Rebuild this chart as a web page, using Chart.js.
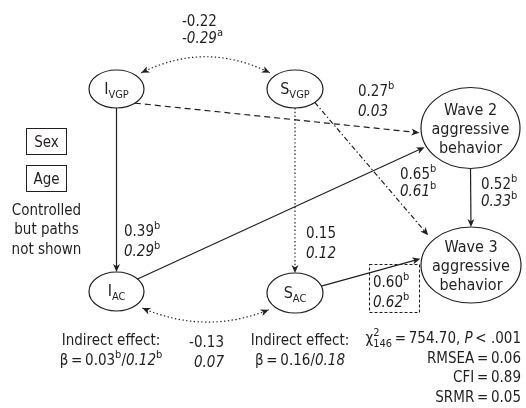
<!DOCTYPE html>
<html>
<head>
<meta charset="utf-8">
<script src="https://cdn.jsdelivr.net/npm/chart.js@4.4.0/dist/chart.umd.min.js"></script>
<style>
  html, body { margin: 0; padding: 0; background: #fff; }
</style>
</head>
<body>
<canvas id="diagram" width="526" height="408"></canvas>
<script>
// path coefficients: upper = first model, lower (italic) = second model
const pathNames = ['IVGP-SVGP', 'IVGP>IAC', 'IVGP>W2', 'SVGP>SAC', 'IAC>W2', 'SAC>W3', 'W2>W3', 'IAC-SAC'];
const coefUpper = ['-0.22', '0.39', '0.27', '0.15', '0.65', '0.60', '0.52', '-0.13'];
const supUpper = ['', 'b', 'b', '', 'b', 'b', 'b', ''];
const coefLower = ['-0.29', '0.29', '0.03', '0.12', '0.61', '0.62', '0.33', '0.07'];
const supLower = ['a', 'b', '', '', 'b', 'b', 'b', ''];

// indirect effects (left: intercept, right: slope)
const indirectUpper = ['0.03', '0.16'];
const indirectSupUpper = ['b', ''];
const indirectLower = ['0.12', '0.18'];
const indirectSupLower = ['b', ''];

// model fit
const chiDf = '146';
const chiValue = '754.70';
const pValue = '< .001';
const fitNames = ['RMSEA', 'CFI', 'SRMR'];
const fitValues = ['0.06', '0.89', '0.05'];

const covariates = ['Sex', 'Age'];
const covariateNote = ['Controlled', 'but paths', 'not shown'];

// ---- layout (diagram units = pixels) ----
const nodes = [
    { id: 'IVGP', label: ['I', 'VGP'], x: 116.5, y: 89, rx: 27.5, ry: 19 },
    { id: 'SVGP', label: ['S', 'VGP'], x: 295, y: 89, rx: 28, ry: 19 },
    { id: 'W2', lines: ['Wave 2', 'aggressive', 'behavior'], x: 470.5, y: 128, rx: 49.5, ry: 40.5 },
    { id: 'IAC', label: ['I', 'AC'], x: 116.5, y: 291.5, rx: 27.5, ry: 19.5 },
    { id: 'SAC', label: ['S', 'AC'], x: 295, y: 293, rx: 28, ry: 20 },
    { id: 'W3', lines: ['Wave 3', 'aggressive', 'behavior'], x: 471, y: 265, rx: 50, ry: 38 }
];

// from, to, angle on source, angle on target, gap at tip, style, bend, double headed
const edges = [
    { from: 'IVGP', to: 'SVGP', a1: -45, a2: -135, gap: 6, style: 'dotted', bend: -35, both: true },
    { from: 'IVGP', to: 'IAC', a1: 90, a2: -90, gap: 0, style: 'solid' },
    { from: 'IVGP', to: 'W2', a1: 48, a2: 173, gap: 2, style: 'dashed' },
    { from: 'SVGP', to: 'SAC', a1: 90, a2: -90, gap: 0, style: 'dotted' },
    { from: 'SVGP', to: 'W3', a1: 45, a2: -140, gap: 7, style: 'dashdot' },
    { from: 'IAC', to: 'W2', a1: -40, a2: 153, gap: 2, style: 'solid' },
    { from: 'SAC', to: 'W3', a1: -20, a2: -170, gap: 1.5, style: 'solid' },
    { from: 'W2', to: 'W3', a1: 90, a2: -90, gap: 0, style: 'solid' },
    { from: 'IAC', to: 'SAC', a1: 45, a2: 135, gap: 7, style: 'dotted', bend: 29, both: true }
];

const labelPos = [
    { x: 182, y1: 20, y2: 37, align: 'left' },
    { x: 124, y1: 230, y2: 250, align: 'left' },
    { x: 358, y1: 90, y2: 110, align: 'left' },
    { x: 306, y1: 232, y2: 252, align: 'left' },
    { x: 400, y1: 173, y2: 190, align: 'left' },
    { x: 373, y1: 281, y2: 301, align: 'left' },
    { x: 481, y1: 183, y2: 200, align: 'left' },
    { x: 224, y1: 341, y2: 361, align: 'right' }
];

const INK = '#231f20';
const BASE = 15;
const SMALL = 11;
const FAMILY = '"DejaVu Sans Condensed", "DejaVu Sans", sans-serif';

function font(size, it) {
    return (it ? 'italic ' : '') + size + 'px ' + FAMILY;
}

function runWidth(ctx, r) {
    if (r.s === 'stack') {
        ctx.font = font(SMALL);
        return Math.max(ctx.measureText(r.t).width, ctx.measureText(r.t2).width);
    }
    ctx.font = font(r.s ? SMALL : (r.size || BASE), r.it);
    return ctx.measureText(r.t).width;
}

// draws a list of text runs, y is the visual middle of the main text
function drawRuns(ctx, runs, x, y, align) {
    let total = 0;
    runs.forEach(r => total += runWidth(ctx, r));
    let cx = align === 'left' ? x : align === 'right' ? x - total : x - total / 2;
    const base = y + 5.5;
    ctx.textAlign = 'left';
    ctx.textBaseline = 'alphabetic';
    ctx.fillStyle = INK;
    runs.forEach(r => {
        const w = runWidth(ctx, r);
        if (r.s === 'stack') {
            ctx.font = font(SMALL);
            ctx.fillText(r.t, cx, base - 7);
            ctx.fillText(r.t2, cx, base + 4);
        } else {
            ctx.font = font(r.s ? SMALL : (r.size || BASE), r.it);
            const dy = r.s === 'sup' ? -6.5 : r.s === 'sub' ? 4 : 0;
            ctx.fillText(r.t, cx, base + dy);
        }
        cx += w;
    });
}

function valueRuns(txt, sup, it) {
    const runs = [{ t: txt, it: it }];
    if (sup) runs.push({ t: sup, s: 'sup' });
    return runs;
}

function arrowHead(ctx, tip, dx, dy) {
    const len = Math.hypot(dx, dy);
    const ux = dx / len, uy = dy / len;
    const nx = -uy, ny = ux;
    const L = 8, W = 3.5, N = 2.2;
    ctx.setLineDash([]);
    ctx.beginPath();
    ctx.moveTo(tip.x, tip.y);
    ctx.lineTo(tip.x - ux * L + nx * W, tip.y - uy * L + ny * W);
    ctx.lineTo(tip.x - ux * (L - N), tip.y - uy * (L - N));
    ctx.lineTo(tip.x - ux * L - nx * W, tip.y - uy * L - ny * W);
    ctx.closePath();
    ctx.fill();
}

const dashes = {
    solid: [],
    dashed: [6, 4],
    dotted: [1.4, 2.4],
    dashdot: [5, 2.5, 1.4, 2.5]
};

const diagramPlugin = {
    id: 'pathDiagram',
    afterDatasetsDraw(chart) {
        const ctx = chart.ctx;
        const sx = chart.scales.x, sy = chart.scales.y;
        const pts = chart.data.datasets[0].data;
        const pos = {};
        nodes.forEach((n, i) => {
            const px = sx.getPixelForValue(pts[i].x);
            const py = sy.getPixelForValue(pts[i].y);
            const rx = Math.abs(sx.getPixelForValue(pts[i].x + n.rx) - px);
            const ry = Math.abs(sy.getPixelForValue(pts[i].y + n.ry) - py);
            pos[n.id] = { x: px, y: py, rx: rx, ry: ry, n: n };
        });
        const onEllipse = (p, deg) => {
            const a = deg * Math.PI / 180;
            return { x: p.x + p.rx * Math.cos(a), y: p.y + p.ry * Math.sin(a) };
        };

        ctx.save();
        ctx.strokeStyle = INK;
        ctx.fillStyle = INK;
        ctx.lineWidth = 1.2;

        // ellipses
        Object.values(pos).forEach(p => {
            ctx.setLineDash([]);
            ctx.beginPath();
            ctx.ellipse(p.x, p.y, p.rx, p.ry, 0, 0, Math.PI * 2);
            ctx.stroke();
        });

        // paths
        edges.forEach(e => {
            let a = onEllipse(pos[e.from], e.a1);
            let b = onEllipse(pos[e.to], e.a2);
            ctx.setLineDash(dashes[e.style]);
            ctx.lineCap = 'butt';
            if (e.bend) {
                const mx = (a.x + b.x) / 2, my = (a.y + b.y) / 2;
                const c = { x: mx, y: my + e.bend };
                const trim = (p) => {
                    const dx = c.x - p.x, dy = c.y - p.y, l = Math.hypot(dx, dy);
                    return { x: p.x + dx / l * e.gap, y: p.y + dy / l * e.gap };
                };
                b = trim(b);
                if (e.both) a = trim(a);
                ctx.beginPath();
                ctx.moveTo(a.x, a.y);
                ctx.quadraticCurveTo(c.x, c.y, b.x, b.y);
                ctx.stroke();
                arrowHead(ctx, b, b.x - c.x, b.y - c.y);
                if (e.both) arrowHead(ctx, a, a.x - c.x, a.y - c.y);
            } else {
                const dx = b.x - a.x, dy = b.y - a.y, l = Math.hypot(dx, dy);
                b = { x: b.x - dx / l * e.gap, y: b.y - dy / l * e.gap };
                const end = { x: b.x - dx / l * 5, y: b.y - dy / l * 5 };
                ctx.beginPath();
                ctx.moveTo(a.x, a.y);
                ctx.lineTo(end.x, end.y);
                ctx.stroke();
                arrowHead(ctx, b, dx, dy);
            }
        });

        // node labels
        Object.values(pos).forEach(p => {
            const n = p.n;
            if (n.lines) {
                n.lines.forEach((t, k) => drawRuns(ctx, [{ t: t, size: 16 }], p.x, p.y + (k - 1) * 19, 'center'));
            } else {
                drawRuns(ctx, [{ t: n.label[0], size: 16 }, { t: n.label[1], s: 'sub' }], p.x, p.y - 1, 'center');
            }
        });

        // covariate boxes
        ctx.setLineDash([]);
        ctx.lineWidth = 1;
        covariates.forEach((c, i) => {
            const top = 128.5 + i * 37;
            ctx.strokeRect(26.5, top, 40, 26);
            drawRuns(ctx, [{ t: c }], 46.5, top + 13, 'center');
        });
        covariateNote.forEach((t, i) => drawRuns(ctx, [{ t: t }], 46.5, 209 + i * 19.5, 'center'));

        // coefficient labels
        coefUpper.forEach((v, i) => {
            const lp = labelPos[i];
            drawRuns(ctx, valueRuns(v, supUpper[i], false), lp.x, lp.y1, lp.align);
            drawRuns(ctx, valueRuns(coefLower[i], supLower[i], true), lp.x, lp.y2, lp.align);
        });

        // dashed box around the S_AC -> Wave 3 estimate
        ctx.setLineDash([3, 2]);
        ctx.lineWidth = 1.1;
        ctx.strokeRect(369.5, 264.5, 50, 48);

        // indirect effects
        const indirectX = [111, 300];
        indirectUpper.forEach((v, i) => {
            drawRuns(ctx, [{ t: 'Indirect effect:' }], indirectX[i], 339, 'center');
            const runs = [{ t: 'β\u2009=\u2009' + v }];
            if (indirectSupUpper[i]) runs.push({ t: indirectSupUpper[i], s: 'sup' });
            runs.push({ t: '/' });
            runs.push({ t: indirectLower[i], it: true });
            if (indirectSupLower[i]) runs.push({ t: indirectSupLower[i], s: 'sup' });
            drawRuns(ctx, runs, indirectX[i], 359, 'center');
        });

        // fit statistics
        drawRuns(ctx, [
            { t: 'χ' },
            { t: '2', t2: chiDf, s: 'stack' },
            { t: '\u2009=\u2009' + chiValue + ', ' },
            { t: 'P', it: true },
            { t: '\u2009' + pValue }
        ], 521, 337, 'right');
        fitNames.forEach((f, i) => {
            drawRuns(ctx, [{ t: f + '\u2009=\u2009' + fitValues[i] }], 521, 357 + i * 19.7, 'right');
        });
        ctx.restore();
    }
};

new Chart(document.getElementById('diagram'), {
    type: 'scatter',
    data: {
        datasets: [{
            data: nodes.map(n => ({ x: n.x, y: n.y })),
            pointRadius: 0,
            pointHoverRadius: 0
        }]
    },
    options: {
        responsive: false,
        animation: false,
        layout: { padding: 0 },
        plugins: { legend: { display: false }, tooltip: { enabled: false } },
        scales: {
            x: { type: 'linear', min: 0, max: 526, display: false },
            y: { type: 'linear', min: 0, max: 408, reverse: true, display: false }
        }
    },
    plugins: [diagramPlugin]
});
</script>
</body>
</html>
